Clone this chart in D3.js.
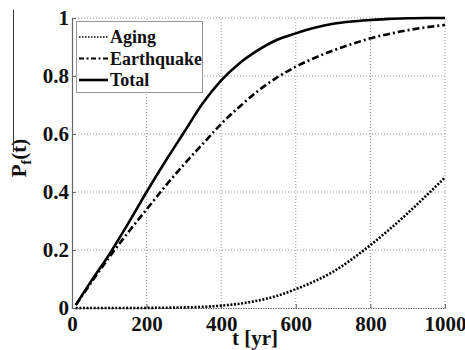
<!DOCTYPE html>
<html><head><meta charset="utf-8">
<script src="https://cdn.jsdelivr.net/npm/d3@7"></script>
</head><body style="margin:0">
<svg id="c" width="465" height="350" font-family="Liberation Serif" style="display:block;font-family:'Liberation Serif'"></svg>
<script>
const years = [10, 50, 100, 150, 200, 250, 300, 350, 400, 450, 500, 550, 600, 650, 700, 750, 800, 850, 900, 950, 1000];
const aging = [0, 0, 0, 0, 0.0003, 0.001, 0.002, 0.004, 0.008, 0.015, 0.026, 0.042, 0.065, 0.092, 0.125, 0.168, 0.217, 0.27, 0.327, 0.388, 0.45];
const earthquake = [0.01, 0.085, 0.175, 0.26, 0.34, 0.42, 0.495, 0.565, 0.635, 0.695, 0.75, 0.795, 0.832, 0.862, 0.888, 0.91, 0.93, 0.945, 0.958, 0.968, 0.976];
const total = [0.01, 0.09, 0.185, 0.29, 0.40, 0.505, 0.605, 0.705, 0.785, 0.845, 0.89, 0.925, 0.947, 0.966, 0.98, 0.988, 0.993, 0.997, 0.999, 1.0, 1.0];
const xTicks = [0, 200, 400, 600, 800, 1000];
const yTicks = [0, 0.2, 0.4, 0.6, 0.8, 1];
const seriesNames = ["Aging", "Earthquake", "Total"];

const svg = d3.select("#c");
const x = d3.scaleLinear().domain([0, 1000]).range([72, 445]);
const y = d3.scaleLinear().domain([0, 1]).range([308, 18]);
const txt = sel => sel.attr("font-family", "Liberation Serif").style("font-family", '"Liberation Serif"')
  .style("font-weight", "bold").style("fill", "#111");

// grid
const g = svg.append("g");
g.selectAll("line.gx").data(xTicks.slice(1)).join("line")
  .attr("x1", d => x(d)).attr("x2", d => x(d)).attr("y1", y(0)).attr("y2", y(1))
  .attr("stroke", "#999").attr("stroke-width", 1).attr("stroke-dasharray", "1,2");
g.selectAll("line.gy").data(yTicks.slice(1)).join("line")
  .attr("y1", d => y(d)).attr("y2", d => y(d)).attr("x1", x(0)).attr("x2", x(1000))
  .attr("stroke", "#999").attr("stroke-width", 1).attr("stroke-dasharray", "1,2");

// axes
const xAxis = d3.axisBottom(x).tickValues(xTicks).tickSize(-4).tickPadding(8).tickFormat(d3.format("d"));
const yAxis = d3.axisLeft(y).tickValues(yTicks).tickSize(-4).tickPadding(3).tickFormat(d => d === 0 ? "0" : d === 1 ? "1" : d3.format(".1f")(d));
const gx = svg.append("g").attr("transform", `translate(0,${y(0)})`).call(xAxis);
const gy = svg.append("g").attr("transform", `translate(${x(0)},0)`).call(yAxis);
[gx, gy].forEach(a => {
  a.attr("font-family", "Liberation Serif").attr("font-size", 21);
  a.select(".domain").attr("stroke", "#666").attr("stroke-width", 1.2);
  a.selectAll(".tick line").attr("stroke", "#666");
  a.selectAll("text").style("font-size", "21px").call(txt);
});
gx.select(".domain").attr("stroke-dasharray", "1.5,1");

// lines
const line = vals => d3.line().curve(d3.curveMonotoneX).x((d, i) => x(years[i])).y(d => y(d))(vals);
const styles = [
  {data: aging, dash: "2,1.6"},
  {data: earthquake, dash: "7,3,2,3"},
  {data: total, dash: null}
];
styles.forEach(s => {
  svg.append("path").attr("d", line(s.data)).attr("fill", "none").attr("stroke", "#000")
    .attr("stroke-width", 2.6).attr("stroke-dasharray", s.dash);
});

// labels
svg.append("text").attr("x", 255).attr("y", 345).attr("text-anchor", "middle").style("font-size", "21px").call(txt).text("t [yr]");
const yl = svg.append("text").attr("transform", "translate(26,158) rotate(-90)").attr("text-anchor", "middle").style("font-size", "21px").call(txt);
yl.append("tspan").text("P");
yl.append("tspan").style("font-size", "14px").attr("dy", 5).text("f");
yl.append("tspan").attr("dy", -5).text("(t)");
svg.append("line").attr("x1", 13.5).attr("x2", 13.5).attr("y1", 10).attr("y2", 152).attr("stroke", "#333").attr("stroke-width", 1);

// legend
const lg = svg.append("g");
lg.append("rect").attr("x", 76.5).attr("y", 21.5).attr("width", 126).attr("height", 71).attr("fill", "#fff").attr("stroke", "#999").attr("stroke-width", 1);
const lw = [1.5, 2, 2.6];
seriesNames.forEach((n, i) => {
  const yy = 37 + i * 21.5;
  lg.append("line").attr("x1", 79).attr("x2", 108).attr("y1", yy).attr("y2", yy).attr("stroke", "#000")
    .attr("stroke-width", lw[i]).attr("stroke-dasharray", styles[i].dash === "7,3,2,3" ? "5,2.5,2,2.5" : (styles[i].dash ? "1.5,1.5" : null));
  lg.append("text").attr("x", 110).attr("y", yy + 6).style("font-size", "18px").call(txt).text(n);
});
</script>
</body></html>
